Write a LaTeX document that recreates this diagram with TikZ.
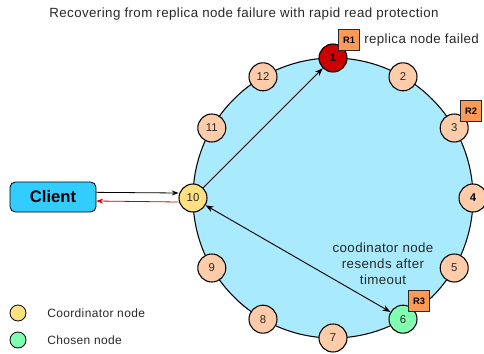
\documentclass[tikz,border=0pt]{standalone}
\usepackage{fontspec}
\setmainfont{Liberation Sans}
\usepackage{xcolor}
\usetikzlibrary{arrows.meta, calc, positioning}
\definecolor{ringblue}{RGB}{170,234,255}
\definecolor{peach}{RGB}{255,204,170}
\definecolor{failred}{RGB}{204,0,0}
\definecolor{coordyellow}{RGB}{255,224,128}
\definecolor{chosengreen}{RGB}{128,255,176}
\definecolor{replicaorange}{RGB}{255,153,85}
\definecolor{clientcyan}{RGB}{51,204,255}
\definecolor{textgray}{RGB}{40,40,40}
\newcommand{\labelfont}{\fontsize{10}{12}\selectfont\addfontfeature{LetterSpace=3}}
\newcommand{\legendfont}{\fontsize{9}{11}\selectfont\addfontfeature{LetterSpace=3}}

\begin{document}
\begin{tikzpicture}[x=0.75pt, y=-0.75pt,
    ringnode/.style={circle, draw=black, line width=0.8pt, fill=peach, minimum size=21pt, inner sep=0pt, font=\fontsize{8.5}{10}\selectfont, text=textgray},
    replica/.style={rectangle, draw=textgray, line width=0.5pt, fill=replicaorange, minimum size=16pt, inner sep=0pt, font=\fontsize{7}{8}\selectfont\bfseries},
    legenddot/.style={circle, draw=black, line width=0.6pt, minimum size=12pt, inner sep=0pt}]
    \useasboundingbox (0,0) rectangle (484,353);

    % Title
    \node[font=\labelfont, text=textgray] (title) at (244,14) {Recovering from replica node failure with rapid read protection};

    % Ring
    \coordinate (ctr) at (333,198);
    \fill[ringblue] (ctr) circle (140);
    \draw[line width=0.8pt] (ctr) circle (140);

    % Ring nodes
    \node[ringnode, fill=failred, font=\fontsize{8.5}{10}\selectfont\bfseries, text=black] (n1) at ($(ctr)+(0,-140)$) {1};
    \node[ringnode] (n2) at ($(ctr)+(70,-121.2)$) {2};
    \node[ringnode] (n3) at ($(ctr)+(121.2,-70)$) {3};
    \node[ringnode, font=\fontsize{8.5}{10}\selectfont\bfseries, text=black] (n4) at ($(ctr)+(140,0)$) {4};
    \node[ringnode] (n5) at ($(ctr)+(121.2,70)$) {5};
    \node[ringnode, fill=chosengreen] (n6) at ($(ctr)+(70,121.2)$) {6};
    \node[ringnode] (n7) at ($(ctr)+(0,140)$) {7};
    \node[ringnode] (n8) at ($(ctr)+(-70,121.2)$) {8};
    \node[ringnode] (n9) at ($(ctr)+(-121.2,70)$) {9};
    \node[ringnode, fill=coordyellow] (n10) at ($(ctr)+(-140,0)$) {10};
    \node[ringnode] (n11) at ($(ctr)+(-121.2,-70)$) {11};
    \node[ringnode] (n12) at ($(ctr)+(-70,-121.2)$) {12};

    % Replica markers
    \node[replica] (r1) at (349,40) {R1};
    \node[replica] (r2) at (471,111) {R2};
    \node[replica] (r3) at (419,301) {R3};
    \node[font=\labelfont, text=textgray, anchor=west, inner sep=0pt] (failtext) at (364,40) {replica node failed};

    % Client
    \node[rectangle, rounded corners=4pt, draw=black, line width=0.6pt, fill=clientcyan,
          minimum width=64.5pt, minimum height=22.5pt, font=\fontsize{12.5}{14}\selectfont\bfseries] (client) at (53,197) {Client};

    % Requests
    \draw[-{Stealth[length=5pt]}, line width=0.6pt] ([yshift=3.5pt]client.east) -- ($(n10.west)+(0,-5)$);
    \draw[-{Stealth[length=5pt]}, line width=0.6pt, failred] ($(n10.west)+(0,4)$) -- ([yshift=-3pt]client.east);
    \draw[-{Stealth[length=6pt]}, line width=0.7pt] (n10) -- (n1);
    \draw[{Stealth[length=6pt]}-{Stealth[length=6pt]}, line width=0.7pt] (n10) -- (n6);

    % Resend note
    \node[font=\labelfont, text=textgray, align=center] (resend) at (383,264) {coodinator node\\resends after\\timeout};

    % Legend
    \node[legenddot, fill=coordyellow] (lcoord) at (18,313) {};
    \node[font=\legendfont, text=textgray, anchor=west, inner sep=0pt] (lcoordtext) at (47,313) {Coordinator node};
    \node[legenddot, fill=chosengreen] (lchosen) at (18,340) {};
    \node[font=\legendfont, text=textgray, anchor=west, inner sep=0pt] (lchosentext) at (47,340) {Chosen node};
\end{tikzpicture}
\end{document}
